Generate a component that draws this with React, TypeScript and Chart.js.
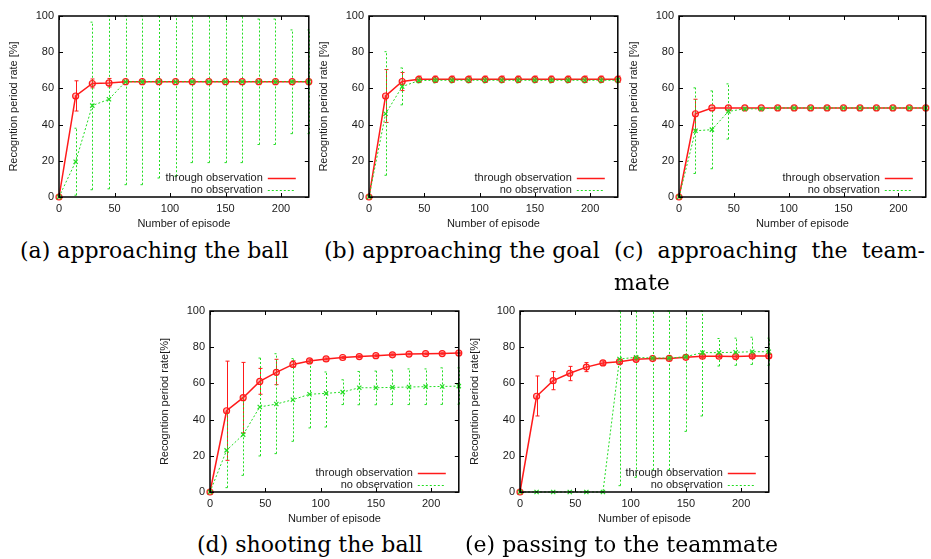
import React, { useEffect, useRef } from 'react';
import { Chart, registerables } from 'chart.js';

Chart.register(...registerables);

// ---------- data ----------
const episodes = [0, 15, 30, 45, 60, 75, 90, 105, 120, 135, 150, 165, 180, 195, 210, 225];
const xTickValues = [0, 50, 100, 150, 200];
const yTickValues = [0, 20, 40, 60, 80, 100];
const seriesLabels = ['through observation', 'no observation'];
const xTitle = 'Number of episode';

// (a) approaching the ball
const aThroughMean = [0, 55.8, 62.7, 63.0, 63.7, 63.7, 63.7, 63.7, 63.7, 63.7, 63.7, 63.7, 63.7, 63.7, 63.7, 63.7];
const aThroughLow = [0, 47.5, 60.3, 60.8, 63.7, 63.7, 63.7, 63.7, 63.7, 63.7, 63.7, 63.7, 63.7, 63.7, 63.7, 63.7];
const aThroughHigh = [0, 64.2, 65.2, 65.5, 63.7, 63.7, 63.7, 63.7, 63.7, 63.7, 63.7, 63.7, 63.7, 63.7, 63.7, 63.7];
const aNoMean = [0, 19.5, 50.5, 54.0, 63.7, 63.7, 63.7, 63.7, 63.7, 63.7, 63.7, 63.7, 63.7, 63.7, 63.7, 63.7];
const aNoLow = [0, 1.0, 4.0, 4.5, 6.8, 6.8, 10.5, 11.5, 19.0, 19.0, 19.0, 19.0, 29.0, 29.0, 35.0, 35.0];
const aNoHigh = [0, 38.0, 96.6, 100, 100, 100, 100, 100, 100, 100, 100, 100, 98.3, 98.3, 92.3, 92.3];

// (b) approaching the goal
const bThroughMean = [0, 55.8, 63.8, 65.0, 65.0, 65.0, 65.0, 65.0, 65.0, 65.0, 65.0, 65.0, 65.0, 65.0, 65.0, 65.0];
const bThroughLow = [0, 41.2, 58.8, 63.3, 63.3, 63.3, 63.3, 63.3, 63.3, 63.3, 63.3, 63.3, 63.3, 63.3, 63.3, 63.3];
const bThroughHigh = [0, 70.4, 68.8, 66.8, 66.8, 66.8, 66.8, 66.8, 66.8, 66.8, 66.8, 66.8, 66.8, 66.8, 66.8, 66.8];
const bNoMean = [0, 46.0, 61.0, 64.3, 64.5, 64.5, 64.5, 64.5, 64.5, 64.5, 64.5, 64.5, 64.5, 64.5, 64.5, 64.5];
const bNoLow = [0, 12.0, 50.9, 63.0, 63.0, 63.0, 63.0, 63.0, 63.0, 63.0, 63.0, 63.0, 63.0, 63.0, 63.0, 63.0];
const bNoHigh = [0, 80.3, 71.3, 66.0, 66.0, 66.0, 66.0, 66.0, 66.0, 66.0, 66.0, 66.0, 66.0, 66.0, 66.0, 66.0];

// (c) approaching the teammate
const cThroughMean = [0, 46.0, 49.2, 49.2, 49.2, 49.2, 49.2, 49.2, 49.2, 49.2, 49.2, 49.2, 49.2, 49.2, 49.2, 49.2];
const cThroughLow = [0, 37.0, 49.2, 49.2, 49.2, 49.2, 49.2, 49.2, 49.2, 49.2, 49.2, 49.2, 49.2, 49.2, 49.2, 49.2];
const cThroughHigh = [0, 54.0, 49.2, 49.2, 49.2, 49.2, 49.2, 49.2, 49.2, 49.2, 49.2, 49.2, 49.2, 49.2, 49.2, 49.2];
const cNoMean = [0, 36.6, 37.2, 47.3, 48.7, 48.7, 49.2, 49.2, 49.2, 49.2, 49.2, 49.2, 49.2, 49.2, 49.2, 49.2];
const cNoLow = [0, 13.0, 15.6, 32.0, 48.0, 48.7, 49.2, 49.2, 49.2, 49.2, 49.2, 49.2, 49.2, 49.2, 49.2, 49.2];
const cNoHigh = [0, 60.3, 58.6, 62.5, 49.3, 48.7, 49.2, 49.2, 49.2, 49.2, 49.2, 49.2, 49.2, 49.2, 49.2, 49.2];

// (d) shooting the ball
const dThroughMean = [0, 44.9, 52.1, 61.1, 66.1, 70.5, 72.4, 73.5, 74.3, 74.8, 75.3, 75.8, 76.2, 76.4, 76.5, 76.8];
const dThroughLow = [0, 17.5, 32.6, 54.0, 59.3, 69.0, 71.5, 73.0, 73.8, 74.3, 74.8, 75.3, 75.8, 76.0, 76.1, 76.4];
const dThroughHigh = [0, 72.3, 71.6, 68.3, 73.3, 72.5, 73.3, 74.0, 74.8, 75.3, 75.8, 76.3, 76.6, 76.8, 76.9, 77.2];
const dNoMean = [0, 23.0, 31.7, 47.0, 48.6, 51.0, 54.0, 54.5, 55.2, 57.6, 57.6, 57.8, 58.0, 58.2, 58.3, 58.5];
const dNoLow = [0, 2.4, 9.2, 19.9, 21.2, 28.0, 35.4, 35.9, 48.3, 48.2, 48.2, 48.3, 48.3, 48.3, 48.4, 48.5];
const dNoHigh = [0, 44.2, 52.3, 74.0, 76.4, 73.7, 72.2, 66.3, 62.0, 66.6, 66.8, 67.3, 68.0, 68.0, 68.6, 68.6];

// (e) passing to the teammate
const eThroughMean = [0, 52.9, 61.5, 65.6, 69.0, 71.3, 72.0, 73.3, 73.7, 73.8, 74.4, 75.0, 75.0, 74.8, 75.2, 75.2];
const eThroughLow = [0, 42.0, 56.5, 61.5, 66.5, 70.3, 71.0, 72.5, 73.0, 73.0, 73.6, 74.2, 74.2, 74.0, 74.4, 74.4];
const eThroughHigh = [0, 64.1, 66.5, 69.4, 71.5, 72.3, 73.0, 74.1, 74.4, 74.6, 75.2, 75.8, 75.8, 75.6, 76.0, 76.0];
const eNoMean = [0, 0, 0, 0, 0, 0, 73.5, 74.4, 74.0, 74.0, 74.8, 77.0, 77.0, 77.2, 77.5, 77.5];
const eNoLow = [0, 0, 0, 0, 0, 0, 3.5, 8.1, 12.2, 12.2, 33.5, 42.0, 69.6, 70.0, 70.5, 70.0];
const eNoHigh = [0, 0, 0, 0, 0, 0, 100, 100, 100, 100, 100, 100, 84.8, 85.0, 85.5, 85.0];

const captions = {
  a: '(a) approaching the ball',
  b: '(b) approaching the goal',
  c1: '(c) approaching the team-',
  c2: 'mate',
  d: '(d) shooting the ball',
  e: '(e) passing to the teammate',
};

// ---------- styling ----------
const RED = '#ff1a1a';
const GREEN = '#22dd22';
const TEXT = '#1a1a1a';
const FONT = '"Liberation Sans", Arial, Helvetica, sans-serif';

type PanelSpec = {
  left: number;
  top: number;
  width: number;
  padRight: number;
  yTitle: string;
  series: number[][]; // throughMean, throughLow, throughHigh, noMean, noLow, noHigh
};

const PANEL_H = 232;
const Y_AXIS_W = 59;
const X_AXIS_H = 35;
const PAD_TOP = 16;

const panels: PanelSpec[] = [
  { left: 0, top: 0, width: 314, padRight: 5, yTitle: 'Recogntion period rate [%]',
    series: [aThroughMean, aThroughLow, aThroughHigh, aNoMean, aNoLow, aNoHigh] },
  { left: 310, top: 0, width: 313, padRight: 5, yTitle: 'Recogntion period rate [%]',
    series: [bThroughMean, bThroughLow, bThroughHigh, bNoMean, bNoLow, bNoHigh] },
  { left: 620, top: 0, width: 311, padRight: 2, yTitle: 'Recogntion period rate [%]',
    series: [cThroughMean, cThroughLow, cThroughHigh, cNoMean, cNoLow, cNoHigh] },
  { left: 151, top: 295, width: 313, padRight: 5, yTitle: 'Recogntion period rate[%]',
    series: [dThroughMean, dThroughLow, dThroughHigh, dNoMean, dNoLow, dNoHigh] },
  { left: 461, top: 295, width: 313, padRight: 5, yTitle: 'Recogntion period rate[%]',
    series: [eThroughMean, eThroughLow, eThroughHigh, eNoMean, eNoLow, eNoHigh] },
];

// ---------- plugins ----------
const errorBarPlugin = {
  id: 'errorBars',
  beforeDatasetsDraw(chart: any) {
    const { ctx, scales } = chart;
    const xs = scales.x;
    const ys = scales.y;
    chart.data.datasets.forEach((ds: any) => {
      ctx.save();
      ctx.strokeStyle = ds.borderColor;
      ctx.lineWidth = 1;
      ctx.setLineDash(ds.borderDash || []);
      ds.data.forEach((p: any, i: number) => {
        const lo = ds.errLow[i];
        const hi = ds.errHigh[i];
        if (hi - lo < 0.3) return;
        const px = Math.round(xs.getPixelForValue(p.x)) + 0.5;
        const y1 = ys.getPixelForValue(lo);
        const y2 = ys.getPixelForValue(hi);
        ctx.beginPath();
        ctx.moveTo(px, y1);
        ctx.lineTo(px, y2);
        ctx.moveTo(px - 2, y1);
        ctx.lineTo(px + 2, y1);
        ctx.moveTo(px - 2, y2);
        ctx.lineTo(px + 2, y2);
        ctx.stroke();
      });
      ctx.restore();
    });
  },
};

const framePlugin = {
  id: 'gnuFrame',
  afterDraw(chart: any) {
    const { ctx, chartArea: a, scales } = chart;
    const xs = scales.x;
    const ys = scales.y;
    ctx.save();
    ctx.strokeStyle = '#000';
    ctx.lineWidth = 1;
    ctx.beginPath();
    xs.ticks.forEach((t: any) => {
      const px = Math.round(xs.getPixelForValue(t.value)) + 0.5;
      ctx.moveTo(px, a.bottom);
      ctx.lineTo(px, a.bottom - 4);
      ctx.moveTo(px, a.top);
      ctx.lineTo(px, a.top + 4);
    });
    ys.ticks.forEach((t: any) => {
      const py = Math.round(ys.getPixelForValue(t.value)) + 0.5;
      ctx.moveTo(a.left, py);
      ctx.lineTo(a.left + 4, py);
      ctx.moveTo(a.right, py);
      ctx.lineTo(a.right - 4, py);
    });
    ctx.stroke();
    ctx.lineWidth = 1.5;
    ctx.strokeRect(a.left, a.top, a.right - a.left, a.bottom - a.top);
    ctx.restore();
  },
};

const keyPlugin = {
  id: 'gnuKey',
  afterDatasetsDraw(chart: any) {
    const { ctx, chartArea: a } = chart;
    ctx.save();
    ctx.font = `11px ${FONT}`;
    ctx.textAlign = 'right';
    ctx.textBaseline = 'middle';
    chart.data.datasets.forEach((ds: any, i: number) => {
      const yy = a.bottom - 19 + i * 12;
      ctx.fillStyle = TEXT;
      ctx.fillText(ds.label, a.right - 46, yy);
      ctx.strokeStyle = ds.borderColor;
      ctx.lineWidth = ds.borderWidth;
      ctx.setLineDash(ds.borderDash || []);
      ctx.beginPath();
      ctx.moveTo(a.right - 41, yy + 0.5);
      ctx.lineTo(a.right - 13, yy + 0.5);
      ctx.stroke();
    });
    ctx.restore();
  },
};

function Panel({ spec }: { spec: PanelSpec }) {
  const ref = useRef<HTMLCanvasElement>(null);
  useEffect(() => {
    const [tm, tl, th, nm, nl, nh] = spec.series;
    const chart = new Chart(ref.current as HTMLCanvasElement, {
      type: 'line',
      data: {
        datasets: [
          {
            label: seriesLabels[0],
            data: episodes.map((x, i) => ({ x, y: tm[i] })),
            errLow: tl,
            errHigh: th,
            borderColor: RED,
            borderWidth: 1.5,
            pointStyle: 'circle',
            pointRadius: 3,
            pointBorderWidth: 1.2,
            pointBackgroundColor: 'rgba(255,60,60,0.35)',
            pointBorderColor: RED,
            order: 1,
            clip: false,
          } as any,
          {
            label: seriesLabels[1],
            data: episodes.map((x, i) => ({ x, y: nm[i] })),
            errLow: nl,
            errHigh: nh,
            borderColor: GREEN,
            borderWidth: 1,
            borderDash: [2, 2],
            pointStyle: 'crossRot',
            pointRadius: 3,
            pointBorderWidth: 1.2,
            pointBorderColor: GREEN,
            order: 0,
            clip: false,
          } as any,
        ],
      },
      options: {
        responsive: false,
        animation: false,
        events: [],
        layout: { padding: { left: 0, top: PAD_TOP, right: spec.padRight, bottom: 0 } },
        plugins: { legend: { display: false }, tooltip: { enabled: false } },
        scales: {
          x: {
            type: 'linear',
            min: 0,
            max: 225,
            grid: { display: false, drawTicks: false },
            border: { display: false },
            afterBuildTicks: (s: any) => { s.ticks = xTickValues.map((v) => ({ value: v })); },
            afterFit: (s: any) => { s.height = X_AXIS_H; },
            ticks: { color: TEXT, font: { family: FONT, size: 11 }, padding: 5, maxRotation: 0, autoSkip: false },
            title: { display: true, text: xTitle, color: TEXT, font: { family: FONT, size: 11 }, padding: { top: 0, bottom: 1 } },
          },
          y: {
            type: 'linear',
            min: 0,
            max: 100,
            grid: { display: false, drawTicks: false },
            border: { display: false },
            afterBuildTicks: (s: any) => { s.ticks = yTickValues.map((v) => ({ value: v })); },
            afterFit: (s: any) => { s.width = Y_AXIS_W; },
            ticks: { color: TEXT, font: { family: FONT, size: 11 }, padding: 5 },
            title: { display: true, text: spec.yTitle, color: TEXT, font: { family: FONT, size: 11 }, padding: { top: 7, bottom: 0 } },
          },
        },
      },
      plugins: [errorBarPlugin, framePlugin, keyPlugin],
    } as any);
    return () => chart.destroy();
  }, [spec]);
  return (
    <canvas
      ref={ref}
      width={spec.width}
      height={PANEL_H}
      style={{ position: 'absolute', left: spec.left, top: spec.top, width: spec.width, height: PANEL_H }}
    />
  );
}

const capStyle: React.CSSProperties = {
  position: 'absolute',
  fontFamily: '"DejaVu Serif", "Liberation Serif", serif',
  fontSize: 22,
  lineHeight: '24px',
  whiteSpace: 'nowrap',
  color: '#000',
};

export default function App() {
  return (
    <div style={{ position: 'absolute', left: 0, top: 0, width: 931, height: 559, background: '#fff', overflow: 'hidden' }}>
      {panels.map((p, i) => (
        <Panel key={i} spec={p} />
      ))}
      <div style={{ ...capStyle, left: 20, top: 239 }}>{captions.a}</div>
      <div style={{ ...capStyle, left: 324, top: 239 }}>{captions.b}</div>
      <div style={{ ...capStyle, left: 614, top: 239, width: 311, textAlign: 'justify', textAlignLast: 'justify' as any }}>{captions.c1}</div>
      <div style={{ ...capStyle, left: 614, top: 271 }}>{captions.c2}</div>
      <div style={{ ...capStyle, left: 197, top: 533 }}>{captions.d}</div>
      <div style={{ ...capStyle, left: 465, top: 533 }}>{captions.e}</div>
    </div>
  );
}
